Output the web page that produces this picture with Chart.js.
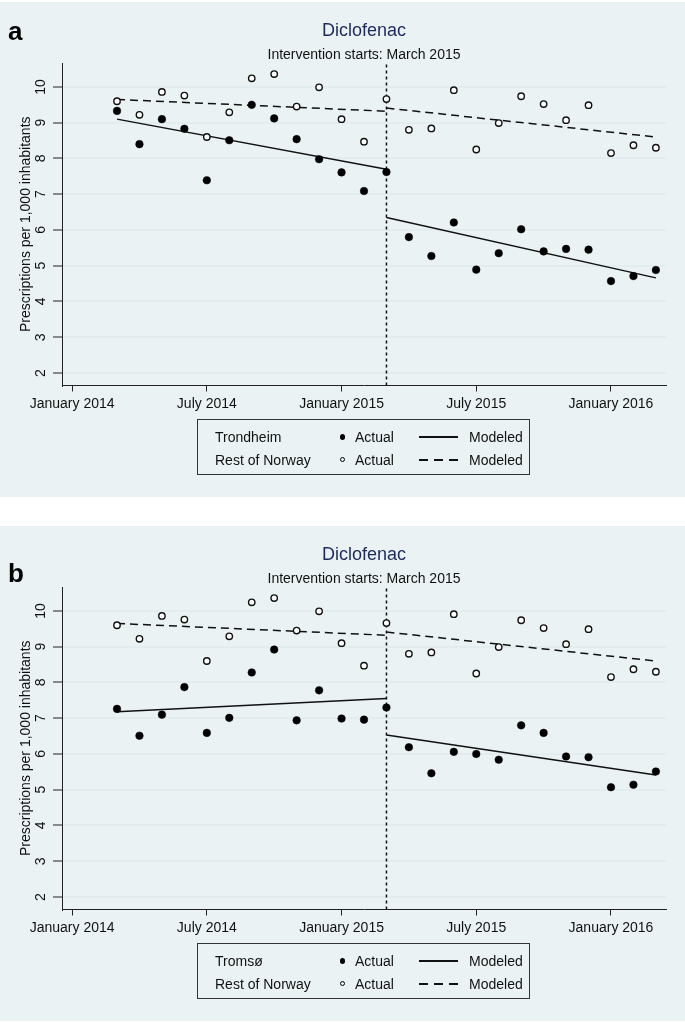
<!DOCTYPE html>
<html>
<head>
<meta charset="utf-8">
<script src="https://cdn.jsdelivr.net/npm/chart.js@4.4.1/dist/chart.umd.min.js"></script>
<style>
  body { margin: 0; width: 685px; height: 1023px; position: relative; background: #fff; font-family: 'Liberation Sans', Arial, sans-serif; }
  .panel { position: absolute; left: 0; width: 685px; height: 495px; background: #eaf2f3; }
  #panelA { top: 2px; }
  #panelB { top: 526px; }
  .panel canvas { position: absolute; left: 0; top: 0; }
  .legend { position: absolute; left: 197px; top: 417px; width: 333px; height: 56px; border: 1px solid #333; box-sizing: border-box; }
  .legend span { position: absolute; font-size: 14px; line-height: 16px; color: #111; white-space: nowrap; }
  .legend .dot { width: 5px; height: 5.5px; border-radius: 50%; background: #000; }
  .legend .ring { width: 3px; height: 3px; border-radius: 50%; border: 1.3px solid #000; }
  .legend .solid { width: 39px; height: 0; border-top: 2px solid #111; }
  .legend .dash { width: 39px; height: 2px; background: repeating-linear-gradient(90deg, #111 0 9px, transparent 9px 15px); }
</style>
</head>
<body>
<div class="panel" id="panelA">
  <canvas id="chartA" width="685" height="495"></canvas>
  <div class="legend" id="legendA"></div>
</div>
<div class="panel" id="panelB">
  <canvas id="chartB" width="685" height="495"></canvas>
  <div class="legend" id="legendB"></div>
</div>
<script>
// months of observations (monthly, March 2014 - March 2016)
const months = ['2014-03','2014-04','2014-05','2014-06','2014-07','2014-08','2014-09','2014-10','2014-11','2014-12',
                '2015-01','2015-02','2015-03','2015-04','2015-05','2015-06','2015-07','2015-08','2015-09','2015-10',
                '2015-11','2015-12','2016-01','2016-02','2016-03'];

const restActual = [9.60, 9.22, 9.86, 9.76, 8.60, 9.29, 10.24, 10.36, 9.45, 9.99, 9.10, 8.47, 9.66,
                    8.80, 8.84, 9.91, 8.25, 8.99, 9.74, 9.52, 9.07, 9.49, 8.15, 8.37, 8.30];
const trondheimActual = [9.33, 8.40, 9.10, 8.83, 7.39, 8.51, 9.50, 9.12, 8.54, 7.98, 7.61, 7.09, 7.62,
                         5.80, 5.27, 6.21, 4.89, 5.35, 6.02, 5.40, 5.47, 5.45, 4.57, 4.71, 4.88];
const tromsoActual = [7.26, 6.51, 7.10, 7.87, 6.59, 7.01, 8.28, 8.92, 6.94, 7.78, 6.99, 6.96, 7.30,
                      6.19, 5.46, 6.06, 6.00, 5.84, 6.80, 6.59, 5.93, 5.91, 5.07, 5.14, 5.51];

// modeled segments: start / end of each straight line
const preMonths = ['2014-03', '2015-03'];
const postMonths = ['2015-03', '2016-03'];
const restModelPre = [9.65, 9.32];
const restModelPost = [9.41, 8.60];
const trondheimModelPre = [9.10, 7.70];
const trondheimModelPost = [6.35, 4.66];
const tromsoModelPre = [7.18, 7.55];
const tromsoModelPost = [6.53, 5.41];

const interventionMonth = '2015-03';

const xTickMonths = ['2014-01', '2014-07', '2015-01', '2015-07', '2016-01'];
const xTickLabels = ['January 2014', 'July 2014', 'January 2015', 'July 2015', 'January 2016'];
const yTicks = [2, 3, 4, 5, 6, 7, 8, 9, 10];

const Y_MIN = 1.65, Y_MAX = 10.67;
const X_MIN = -0.45, X_MAX = 26.45;

Chart.defaults.font.family = "'Liberation Sans', Arial, sans-serif";
Chart.defaults.color = '#111';

// month string -> months since January 2014
function monthPos(m) {
    const [y, mo] = m.split('-').map(Number);
    return (y - 2014) * 12 + (mo - 1);
}

function toPoints(ms, vals) {
    return vals.map((v, i) => ({x: monthPos(ms[i]), y: v}));
}

const panelText = {
    id: 'panelText',
    afterDraw(chart, args, opts) {
        const {ctx, chartArea} = chart;
        const cx = (chartArea.left + chartArea.right) / 2;
        ctx.save();
        ctx.textBaseline = 'alphabetic';
        ctx.fillStyle = '#000';
        ctx.font = "bold 26px 'Liberation Sans', Arial, sans-serif";
        ctx.textAlign = 'left';
        ctx.fillText(opts.letter, 8, opts.letterY);
        ctx.textAlign = 'center';
        ctx.fillStyle = '#1c2a5c';
        ctx.font = "18px 'Liberation Sans', Arial, sans-serif";
        ctx.fillText('Diclofenac', cx, 34);
        ctx.fillStyle = '#111';
        ctx.font = "14px 'Liberation Sans', Arial, sans-serif";
        ctx.fillText('Intervention starts: March 2015', cx, 56.5);
        ctx.restore();
    }
};

function lineSet(pts, dash) {
    return {
        data: pts, showLine: true, pointRadius: 0, borderColor: '#111',
        borderWidth: 1.5, borderDash: dash, fill: false
    };
}

function makeChart(canvasId, letter, letterY, regionActual, regionPre, regionPost) {
    const ctx = document.getElementById(canvasId);
    return new Chart(ctx, {
        type: 'scatter',
        data: {
            datasets: [
                { data: toPoints(months, regionActual), pointRadius: 3.8, pointBackgroundColor: '#000', pointBorderColor: '#000', pointBorderWidth: 0.5 },
                { data: toPoints(months, restActual), pointRadius: 3.2, pointBackgroundColor: '#fff', pointBorderColor: '#111', pointBorderWidth: 1.4 },
                lineSet(toPoints(preMonths, regionPre), []),
                lineSet(toPoints(postMonths, regionPost), []),
                lineSet(toPoints(preMonths, restModelPre), [8, 5]),
                lineSet(toPoints(postMonths, restModelPost), [8, 5]),
                lineSet([{x: monthPos(interventionMonth), y: Y_MIN}, {x: monthPos(interventionMonth), y: Y_MAX}], [3, 3])
            ]
        },
        options: {
            responsive: false,
            animation: false,
            layout: { padding: { left: 0, right: 19, top: 61, bottom: 81.5 } },
            plugins: {
                legend: { display: false },
                tooltip: { enabled: false },
                panelText: { letter: letter, letterY: letterY }
            },
            scales: {
                x: {
                    type: 'linear', min: X_MIN, max: X_MAX,
                    afterBuildTicks: s => { s.ticks = xTickMonths.map(m => ({value: monthPos(m)})); },
                    afterFit: s => { s.height = 30; },
                    ticks: {
                        autoSkip: false, maxRotation: 0, padding: 4,
                        font: { size: 14 }, color: '#111',
                        callback: v => xTickLabels[xTickMonths.findIndex(m => monthPos(m) === v)]
                    },
                    grid: { drawOnChartArea: false, tickLength: 6, color: '#222', lineWidth: 1 },
                    border: { color: '#222', width: 1 }
                },
                y: {
                    min: Y_MIN, max: Y_MAX,
                    afterBuildTicks: s => { s.ticks = yTicks.map(v => ({value: v})); },
                    afterFit: s => { s.width = 62; },
                    ticks: {
                        minRotation: 90, maxRotation: 90, crossAlign: 'center', padding: 3.7,
                        font: { size: 14 }, color: '#111'
                    },
                    grid: { color: '#e3edef', lineWidth: 2, tickColor: '#222', tickLength: 9, tickWidth: 1 },
                    border: { color: '#222', width: 1 },
                    title: {
                        display: true, text: 'Prescriptions per 1,000 inhabitants',
                        font: { size: 14 }, color: '#111', padding: { top: 17.6, bottom: 0 }
                    }
                }
            }
        },
        plugins: [panelText]
    });
}

function fillLegend(id, region) {
    const el = document.getElementById(id);
    const rows = [
        { name: region, mark: 'dot', line: 'solid', top: 9 },
        { name: 'Rest of Norway', mark: 'ring', line: 'dash', top: 32 }
    ];
    rows.forEach(r => {
        el.insertAdjacentHTML('beforeend',
            `<span style="left:17px;top:${r.top}px">${r.name}</span>` +
            `<span class="${r.mark}" style="left:141.5px;top:${r.top + 5}px"></span>` +
            `<span style="left:157px;top:${r.top}px">Actual</span>` +
            `<span class="${r.line}" style="left:221px;top:${r.top + 7}px"></span>` +
            `<span style="left:271px;top:${r.top}px">Modeled</span>`);
    });
}

makeChart('chartA', 'a', 38, trondheimActual, trondheimModelPre, trondheimModelPost);
makeChart('chartB', 'b', 56, tromsoActual, tromsoModelPre, tromsoModelPost);
fillLegend('legendA', 'Trondheim');
fillLegend('legendB', 'Tromsø');
</script>
</body>
</html>
